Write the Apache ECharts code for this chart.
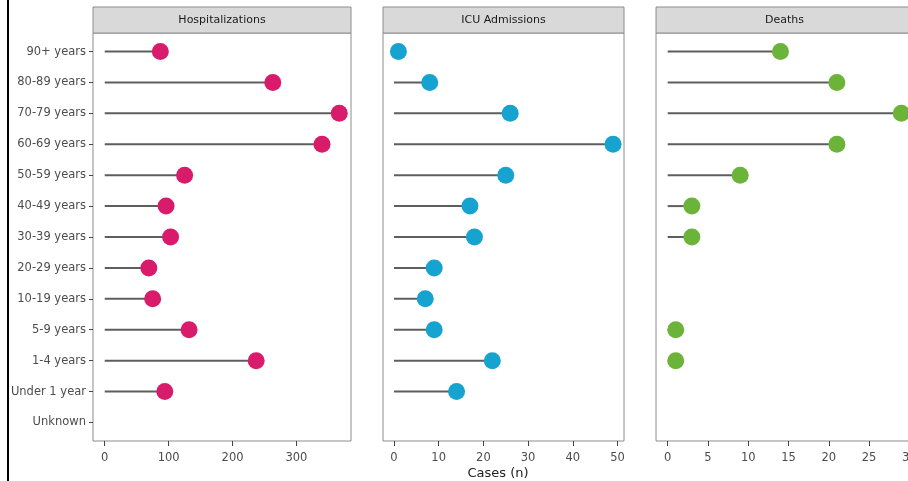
<!DOCTYPE html>
<html>
<head>
<meta charset="utf-8">
<script src="https://cdn.jsdelivr.net/npm/echarts@6/dist/echarts.min.js"></script>
<style>
html,body{margin:0;padding:0;background:#fff;}
#chart{width:908px;height:481px;}
</style>
</head>
<body>
<div id="chart"></div>
<script>
// ---- data ----
var categories = ["90+ years","80-89 years","70-79 years","60-69 years","50-59 years","40-49 years","30-39 years","20-29 years","10-19 years","5-9 years","1-4 years","Under 1 year","Unknown"];
var hospitalizations = [87, 263, 367, 340, 125, 96, 103, 69, 75, 132, 237, 94, null];
var icuAdmissions = [1, 8, 26, 49, 25, 17, 18, 9, 7, 9, 22, 14, null];
var deaths = [14, 21, 29, 21, 9, 3, 3, null, null, 1, 1, null, null];
var panelTitles = ["Hospitalizations", "ICU Admissions", "Deaths"];
var hospTicks = [0, 100, 200, 300];
var icuTicks = [0, 10, 20, 30, 40, 50];
var deathTicks = [0, 5, 10, 15, 20, 25, 30];
var axisTitle = "Cases (n)";

// ---- layout / style ----
var FONT = "DejaVu Sans";
var panels = [
  {left: 93, width: 258, color: "#d81b6a", data: hospitalizations, ticks: hospTicks},
  {left: 383, width: 241, color: "#16a3cf", data: icuAdmissions, ticks: icuTicks},
  {left: 656, width: 257, color: "#6cb33a", data: deaths, ticks: deathTicks}
];
var TOP = 33, HEIGHT = 408, STRIP_TOP = 7;
// discrete axis expansion of 0.6 band on each side (ggplot-like)
var nCat = categories.length;
var band = HEIGHT / (nCat - 1 + 1.2);
var DATA_TOP = TOP + band * 0.1, DATA_HEIGHT = band * nCat;

function maxOf(arr){ var m = 0; arr.forEach(function(v){ if (v != null && v > m) m = v; }); return m; }
function clean(arr){ return arr.map(function(v){ return v == null ? '-' : v; }); }

var grids = [], xAxes = [], yAxes = [], series = [], graphics = [];
panels.forEach(function(p, i){
  var mx = maxOf(p.data);
  var xmin = -0.05 * mx, xmax = 1.05 * mx;
  // frame grid: border + x axis ticks/labels
  grids.push({left: p.left, width: p.width, top: TOP, height: HEIGHT, show: true,
              borderColor: "#8c8c8c", borderWidth: 1, backgroundColor: "#fff",
              containLabel: false, outerBoundsMode: "none", z: 0});
  var fIdx = grids.length - 1;
  xAxes.push({type: "value", gridIndex: fIdx, min: xmin, max: xmax,
    axisLine: {show: false, onZero: false}, splitLine: {show: false},
    axisTick: {show: true, length: 5, customValues: p.ticks, lineStyle: {color: "#444"}},
    axisLabel: {show: true, customValues: p.ticks, margin: 11, color: "#4d4d4d", fontSize: 11.5, fontFamily: FONT}
  });
  yAxes.push({type: "value", gridIndex: fIdx, min: 0, max: 1, show: false});
  // data grid
  grids.push({left: p.left, width: p.width, top: DATA_TOP, height: DATA_HEIGHT, show: false,
              containLabel: false, outerBoundsMode: "none"});
  var dIdx = grids.length - 1;
  xAxes.push({type: "value", gridIndex: dIdx, min: xmin, max: xmax, show: false,
    axisLine: {onZero: false}, splitLine: {show: false}});
  yAxes.push({type: "category", gridIndex: dIdx, data: categories, inverse: true,
    boundaryGap: true, position: "left", show: true,
    axisLine: {show: false, onZero: false}, splitLine: {show: false},
    axisTick: {show: i === 0, alignWithLabel: true, length: 4, lineStyle: {color: "#444"}},
    axisLabel: {show: i === 0, margin: 7, color: "#4d4d4d", fontSize: 11.5, fontFamily: FONT}
  });
  series.push({type: "bar", xAxisIndex: dIdx, yAxisIndex: dIdx, data: clean(p.data), barWidth: 2,
    itemStyle: {color: "#5e5e5e"}, silent: true, z: 2});
  series.push({type: "scatter", xAxisIndex: dIdx, yAxisIndex: dIdx, data: clean(p.data), symbolSize: 17,
    itemStyle: {color: p.color, opacity: 1}, z: 3});
  graphics.push({type: "rect", shape: {x: p.left, y: STRIP_TOP, width: p.width, height: TOP - STRIP_TOP},
    style: {fill: "#d9d9d9", stroke: "#8c8c8c", lineWidth: 1}, z: 10});
  graphics.push({type: "text", x: p.left + p.width / 2, y: (STRIP_TOP + TOP) / 2,
    style: {text: panelTitles[i], fill: "#1a1a1a", font: "11px " + FONT, align: "center", verticalAlign: "middle"}, z: 11});
});
graphics.push({type: "text", x: 498, y: 474,
  style: {text: axisTitle, fill: "#222", font: "13px " + FONT, align: "center", verticalAlign: "middle"}, z: 11});
graphics.push({type: "rect", shape: {x: 7, y: 0, width: 2, height: 481}, style: {fill: "#000"}, z: 11});

var chart = echarts.init(document.getElementById("chart"));
chart.setOption({
  animation: false,
  backgroundColor: "#fff",
  grid: grids,
  xAxis: xAxes,
  yAxis: yAxes,
  series: series,
  graphic: graphics
});
</script>
</body>
</html>
